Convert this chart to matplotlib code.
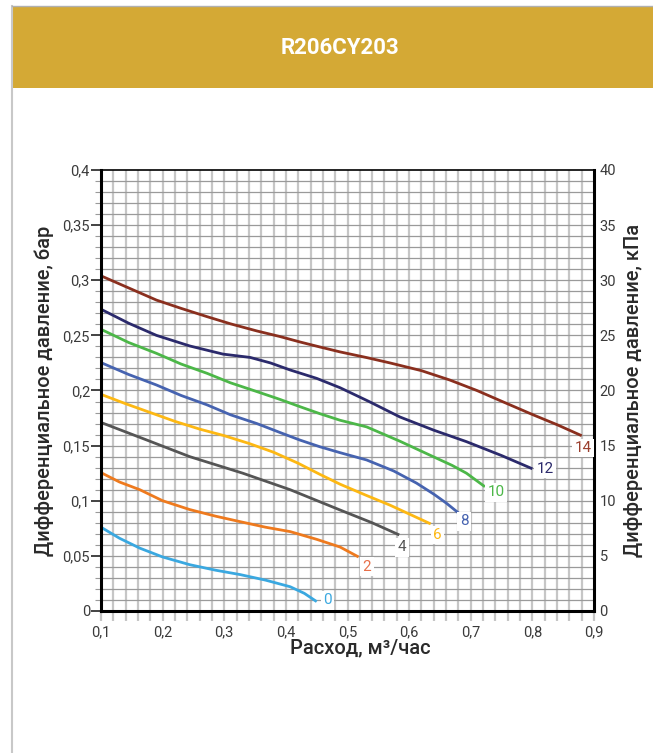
import matplotlib
matplotlib.use("Agg")
import matplotlib.pyplot as plt
from matplotlib.patches import Rectangle
from matplotlib.lines import Line2D
from matplotlib.ticker import MultipleLocator

plt.rcParams['font.family'] = ['Roboto', 'DejaVu Sans']

# данные кривых (расход, м3/час -> перепад, бар)
labels = ["0", "2", "4", "6", "8", "10", "12", "14"]
colors = ["#3aa8e0", "#ee7a1e", "#555555", "#fdb813", "#4663b0", "#4cb748", "#2b2a6c", "#8a2f1e"]
label_colors = ["#3aa8e0", "#e8704a", "#555555", "#fdb813", "#4663b0", "#4cb748", "#2b2a6c", "#9a3f2e"]

x0 = [0.10, 0.13, 0.163, 0.20, 0.244, 0.286, 0.326, 0.367, 0.407, 0.43, 0.45]
y0 = [0.076, 0.066, 0.057, 0.049, 0.042, 0.037, 0.033, 0.028, 0.022, 0.016, 0.0085]

x2 = [0.10, 0.13, 0.163, 0.20, 0.244, 0.286, 0.326, 0.367, 0.407, 0.45, 0.488, 0.518]
y2 = [0.1255, 0.117, 0.110, 0.100, 0.092, 0.086, 0.081, 0.076, 0.072, 0.065, 0.058, 0.049]

x4 = [0.10, 0.17, 0.244, 0.33, 0.407, 0.488, 0.54, 0.584]
y4 = [0.171, 0.156, 0.140, 0.125, 0.110, 0.0916, 0.080, 0.069]

x6 = [0.10, 0.14, 0.18, 0.22, 0.26, 0.30, 0.34, 0.38, 0.42, 0.455, 0.488, 0.53, 0.569, 0.60, 0.635]
y6 = [0.1965, 0.188, 0.180, 0.172, 0.165, 0.159, 0.152, 0.144, 0.134, 0.124, 0.115, 0.105, 0.096, 0.088, 0.079]

x8 = [0.10, 0.145, 0.19, 0.23, 0.272, 0.31, 0.353, 0.39, 0.423, 0.455, 0.488, 0.531, 0.575, 0.612, 0.64, 0.66, 0.68]
y8 = [0.2253, 0.2145, 0.205, 0.1955, 0.187, 0.178, 0.170, 0.162, 0.155, 0.149, 0.1436, 0.137, 0.127, 0.116, 0.106, 0.098, 0.089]

x10 = [0.10, 0.145, 0.19, 0.23, 0.272, 0.31, 0.353, 0.39, 0.423, 0.455, 0.488, 0.531, 0.585, 0.639, 0.67, 0.693, 0.723]
y10 = [0.2555, 0.2435, 0.2337, 0.224, 0.2156, 0.207, 0.199, 0.192, 0.1853, 0.179, 0.173, 0.167, 0.154, 0.140, 0.132, 0.125, 0.1127]

x12 = [0.10, 0.145, 0.19, 0.244, 0.298, 0.342, 0.375, 0.407, 0.45, 0.488, 0.535, 0.585, 0.64, 0.693, 0.75, 0.80]
y12 = [0.2737, 0.261, 0.250, 0.2404, 0.233, 0.230, 0.225, 0.2186, 0.211, 0.2025, 0.190, 0.176, 0.164, 0.1536, 0.141, 0.129]

x14 = [0.10, 0.145, 0.19, 0.23, 0.272, 0.31, 0.353, 0.39, 0.423, 0.455, 0.488, 0.53, 0.569, 0.62, 0.666, 0.71, 0.747, 0.801, 0.84, 0.88]
y14 = [0.304, 0.293, 0.282, 0.2745, 0.267, 0.2605, 0.254, 0.249, 0.244, 0.2395, 0.235, 0.230, 0.225, 0.218, 0.2095, 0.200, 0.191, 0.178, 0.169, 0.159]

xs = [x0, x2, x4, x6, x8, x10, x12, x14]
ys = [y0, y2, y4, y6, y8, y10, y12, y14]

# смещения подписей от конца кривой, в пунктах
offsets = [(8, 1), (6, -7), (2, -9), (5, -8), (4, -6), (8, -4), (9, 0), (1, -9)]

fig = plt.figure(figsize=(6.53, 7.53), dpi=100)

# шапка
fig.patches.append(Rectangle((12 / 653, 1 - 88 / 753), 1, 82 / 753, transform=fig.transFigure,
                             facecolor="#d4a935", edgecolor="none", zorder=0))
fig.add_artist(Line2D([11.5 / 653, 11.5 / 653], [0, 1 - 6 / 753], transform=fig.transFigure,
                      color="#c8c8c8", lw=1.5))
fig.add_artist(Line2D([11.5 / 653, 1], [1 - 5.5 / 753, 1 - 5.5 / 753], transform=fig.transFigure,
                      color="#b0b0b0", lw=1.0))
fig.text(340 / 653, 1 - 48 / 753, "R206CY203", color="white", fontsize=16, fontweight="bold",
         ha="center", va="center")

ax = fig.add_axes([101 / 653, 1 - 611 / 753, 493 / 653, 441 / 753])
ax.set_xlim(0.1, 0.9)
ax.set_ylim(0, 0.4)

# сетка
for xv in [0.1 + 0.02 * i for i in range(1, 40)]:
    ax.axvline(xv, color="#c6c6c6", lw=1.6, zorder=1)
for yv in [0.01 * i for i in range(1, 40)]:
    ax.axhline(yv, color="#9a9a9a", lw=0.9, zorder=1)

for xx, yy, c in zip(xs, ys, colors):
    ax.plot(xx, yy, color=c, lw=2.0, zorder=3, solid_capstyle="butt", solid_joinstyle="round")

for xx, yy, lab, lc, off in zip(xs, ys, labels, label_colors, offsets):
    ax.annotate(lab, (xx[-1], yy[-1]), xytext=off, textcoords="offset points",
                color=lc, fontsize=11, ha="center", va="center", zorder=5,
                bbox=dict(boxstyle="square,pad=0.15", facecolor="white", edgecolor="none"))

for side in ["left", "bottom", "right"]:
    ax.spines[side].set_linewidth(2.2)
ax.spines["top"].set_linewidth(1.2)
for side in ax.spines:
    ax.spines[side].set_zorder(4)

ax.xaxis.set_minor_locator(MultipleLocator(0.02))
ax.yaxis.set_minor_locator(MultipleLocator(0.01))
ax.tick_params(axis="x", which="major", length=7, width=1.6, color="#c6c6c6", labelsize=10.5,
               labelcolor="#3a3a3a", pad=3)
ax.tick_params(axis="x", which="minor", length=7, width=1.6, color="#c6c6c6")
ax.tick_params(axis="y", which="major", length=7, width=1.2, color="#222222", labelsize=10.5,
               labelcolor="#3a3a3a", pad=1)
ax.tick_params(axis="y", which="minor", length=4, width=0.8, color="#9a9a9a")

xt = [0.1 + 0.1 * i for i in range(9)]
ax.set_xticks(xt)
ax.set_xticklabels([f"{v:.1f}".replace(".", ",") for v in xt])
yt = [0.05 * i for i in range(9)]
ax.set_yticks(yt)
ax.set_yticklabels(["0"] + [f"{v:.2f}".rstrip("0").replace(".", ",") for v in yt[1:]])

ax.set_xlabel("Расход, м³/час", fontsize=14.5, color="#2a2a2a", fontweight="medium")
ax.xaxis.set_label_coords(0.527, -0.062)
ax.set_ylabel("Дифференциальное давление, бар", fontsize=14.5, color="#2a2a2a",
              fontweight="medium", labelpad=6)

ax2 = ax.twinx()
ax2.set_ylim(0, 40)
ax2.yaxis.set_major_locator(MultipleLocator(5))
ax2.tick_params(axis="y", length=0, labelsize=10.5, labelcolor="#3a3a3a", pad=4)
for s in ax2.spines.values():
    s.set_visible(False)
ax2.set_ylabel("Дифференциальное давление, кПа", fontsize=14.5, color="#2a2a2a",
               fontweight="medium", labelpad=6)

fig.savefig("out.png", dpi=100, facecolor="white")
